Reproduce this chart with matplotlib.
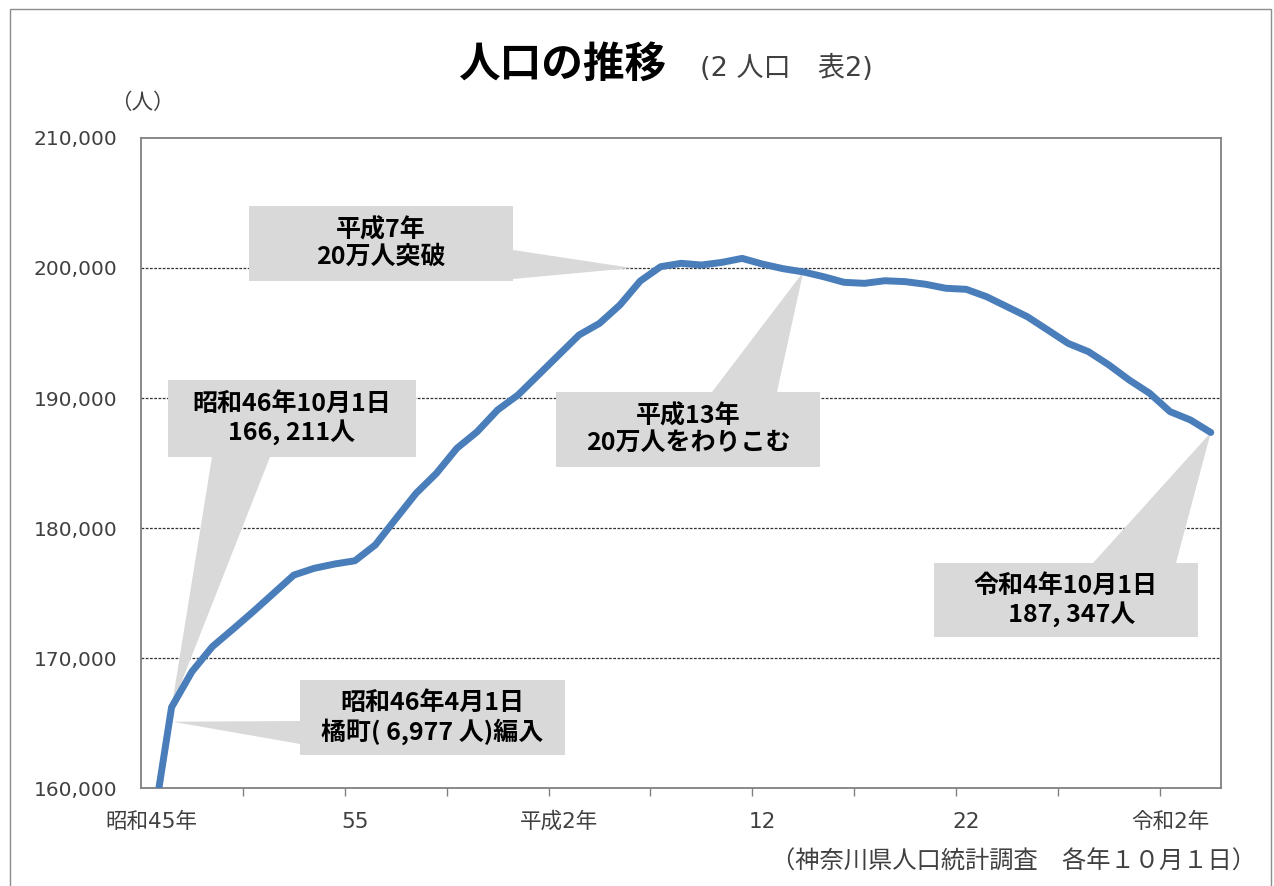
import matplotlib
matplotlib.use('Agg')
import matplotlib.pyplot as plt
from matplotlib.patches import Rectangle, Polygon

plt.rcParams['font.family'] = ['DejaVu Sans', 'Noto Sans CJK JP']

# ---------------- data ----------------
years = list(range(1970, 2023))
population = [156200, 166211, 168950, 170870, 172200, 173560, 174970, 176380, 176900, 177230,
              177480, 178700, 180700, 182670, 184210, 186130, 187410, 189080, 190230, 191770,
              193310, 194850, 195740, 197150, 199000, 200100, 200360, 200230, 200430, 200740,
              200300, 199950, 199700, 199330, 198900, 198820, 199020, 198950, 198750, 198440,
              198360, 197790, 197020, 196250, 195230, 194200, 193560, 192540, 191380, 190360,
              188950, 188310, 187347]
label_positions = [0, 10, 20, 30, 40, 50]
x_tick_labels = ['昭和45年', '55', '平成2年', '12', '22', '令和2年']
y_ticks = [160000, 170000, 180000, 190000, 200000, 210000]

W, H = 1274, 886
fig = plt.figure(figsize=(W / 100, H / 100), dpi=100)
AX_L, AX_R, AX_T, AX_B = 141, 1221, 138, 788
ax = fig.add_axes([AX_L / W, 1 - AX_B / H, (AX_R - AX_L) / W, (AX_B - AX_T) / H])

idx = list(range(len(years)))
ax.plot(idx, population, color='#4A7EBB', lw=5.0, solid_joinstyle='round',
        solid_capstyle='round', zorder=3)

ax.set_xlim(-0.5, len(years) - 0.5)
ax.set_ylim(160000, 210000)

# y axis
ax.set_yticks(y_ticks)
ax.set_yticklabels([f'{v:,}' for v in y_ticks], fontsize=14.5, color='#404040')
ax.tick_params(axis='y', length=0, pad=17)
for v in y_ticks[1:-1]:
    ax.axhline(v, color='#333333', lw=0.9, ls=(0, (2.2, 1.2)), zorder=0.5)

# x axis: tick marks at category boundaries every 5, labels at category centers
ax.set_xticks([i - 0.5 for i in range(5, len(years), 5)])
ax.set_xticklabels([])
ax.tick_params(axis='x', which='major', length=6, width=1, color='#808080', direction='out')
ax.set_xticks(label_positions, minor=True)
ax.set_xticklabels(x_tick_labels, minor=True, fontsize=15.5, color='#404040')
ax.tick_params(axis='x', which='minor', length=0, pad=17)

for s in ax.spines.values():
    s.set_color('#808080')
    s.set_linewidth(1.3)


def px2ax(x, y):
    return ((x - AX_L) / (AX_R - AX_L), (AX_B - y) / (AX_B - AX_T))


def data2ax(xd, yd):
    disp = ax.transData.transform((xd, yd))
    return tuple(ax.transAxes.inverted().transform(disp))


BOX_C = '#D9D9D9'


def callout(box, text, base, tip, fs=18):
    x0, y0, x1, y1 = box
    a = px2ax(x0, y1)
    b = px2ax(x1, y0)
    ax.add_patch(Rectangle(a, b[0] - a[0], b[1] - a[1], transform=ax.transAxes,
                           facecolor=BOX_C, edgecolor='none', zorder=1, clip_on=False))
    pts = [px2ax(*base[0]), px2ax(*base[1]), data2ax(*tip)]
    ax.add_patch(Polygon(pts, closed=True, transform=ax.transAxes, facecolor=BOX_C,
                         edgecolor='none', zorder=1, clip_on=False))
    c = px2ax((x0 + x1) / 2, (y0 + y1) / 2)
    ax.text(c[0], c[1], text, transform=ax.transAxes, ha='center', va='center',
            fontsize=fs, fontweight='bold', color='black', linespacing=1.15,
            family=['Noto Sans CJK JP', 'DejaVu Sans'], zorder=4)


callout((249, 206, 513, 281), '平成7年\n20万人突破',
        [(513, 250), (513, 279)], (23.6, 200000))
callout((556, 392, 820, 467), '平成13年\n20万人をわりこむ',
        [(712, 392), (777, 392)], (32, population[32]))
callout((168, 380, 416, 457), '昭和46年10月1日\n166, 211人',
        [(212, 457), (270, 457)], (1, population[1]))
callout((300, 680, 565, 755), '昭和46年4月1日\n橘町( 6,977 人)編入',
        [(300, 721), (300, 744)], (1.05, 165100))
callout((934, 563, 1198, 637), '令和4年10月1日\n  187, 347人',
        [(1093, 563), (1176, 563)], (52, population[52]))

# titles & notes
fig.text(562 / W, 1 - 65 / H, '人口の推移', ha='center', va='center', fontsize=30,
         fontweight='bold', family=['Noto Sans CJK JP'])
fig.text(700 / W, 1 - 68 / H, '(2 人口　表2)', ha='left', va='center', fontsize=19.5,
         color='#404040')
fig.text(110 / W, 1 - 103 / H, '（人）', ha='left', va='center', fontsize=15.5,
         color='#404040', family=['Noto Sans CJK JP'])
fig.text(1256 / W, 1 - 862 / H, '（神奈川県人口統計調査　各年１０月１日）', ha='right',
         va='center', fontsize=17.5, color='#404040', family=['Noto Sans CJK JP'])

# outer frame
fig.add_artist(Rectangle((10 / W, -0.01), (1271 - 10) / W, 1 - 9 / H + 0.01,
                         transform=fig.transFigure, fill=False, edgecolor='#8C8C8C', lw=1))

fig.savefig('out.png', dpi=100)
